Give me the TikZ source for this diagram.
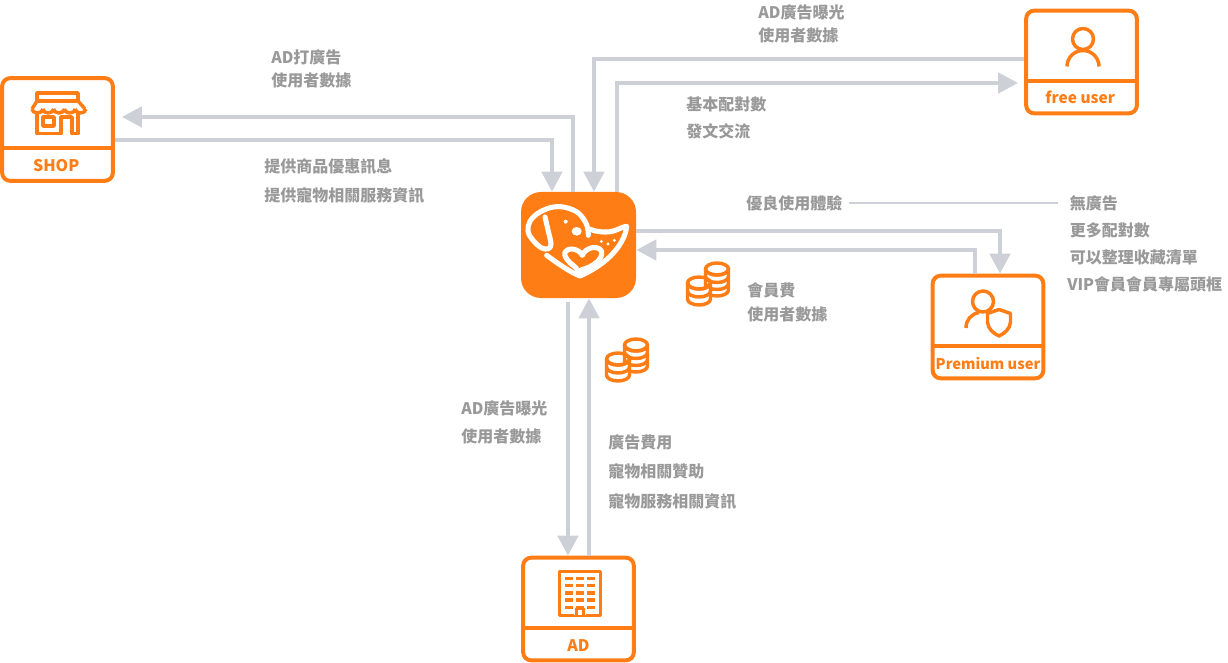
\documentclass[tikz,border=0pt]{standalone}
\usepackage{fontspec}
\setmainfont{Noto Sans CJK TC}
\definecolor{BrandOrange}{RGB}{255,125,20}
\definecolor{FlowGrey}{RGB}{205,208,214}
\definecolor{TextGrey}{RGB}{153,153,153}
\usetikzlibrary{arrows.meta, positioning}
\tikzset{
  card/.style={draw=BrandOrange, fill=white, line width=3pt, rounded corners=6pt,
               minimum width=83pt, minimum height=77pt, inner sep=0pt},
  cardname/.style={text=BrandOrange, font=\bfseries\fontsize{12}{14}\selectfont, inner sep=0pt},
  cardline/.style={draw=BrandOrange, line width=3pt},
  flow/.style={draw=FlowGrey, line width=3.3pt, -{Triangle[length=15pt,width=15pt]}},
  note/.style={text=TextGrey, font=\bfseries\fontsize{12}{18}\selectfont, align=left,
               anchor=west, inner sep=0pt},
  glyph/.style={draw=BrandOrange, line width=2.6pt, line join=round},
  logoline/.style={draw=white, line width=3.8pt, line cap=round, line join=round},
  coins/.pic={
    \draw[glyph, fill=white] (19.5,7) -- (19.5,28) arc[start angle=180,end angle=0,x radius=11.5,y radius=6]
      -- (42.5,7) arc[start angle=0,end angle=180,x radius=11.5,y radius=6] -- cycle;
    \draw[glyph] (31,7) ellipse[x radius=11.5,y radius=6];
    \draw[glyph] (19.5,14.5) arc[start angle=180,end angle=0,x radius=11.5,y radius=6];
    \draw[glyph] (19.5,21.5) arc[start angle=180,end angle=0,x radius=11.5,y radius=6];
    \draw[glyph, fill=white] (1.5,21) -- (1.5,37) arc[start angle=180,end angle=0,x radius=11.5,y radius=6]
      -- (24.5,21) arc[start angle=0,end angle=180,x radius=11.5,y radius=6] -- cycle;
    \draw[glyph] (13,21) ellipse[x radius=11.5,y radius=6];
    \draw[glyph] (1.5,29) arc[start angle=180,end angle=0,x radius=11.5,y radius=6];
  }
}

\begin{document}
\begin{tikzpicture}[x=0.75pt, y=-0.75pt]
  \useasboundingbox (0,0) rectangle (1228,663);

  % centre
  \node[fill=BrandOrange, rounded corners=15pt, minimum width=86.25pt,
        minimum height=79.5pt, inner sep=0pt] (logo) at (578.5,245) {};
  \begin{scope}[shift={(525,198)}, x=0.25pt, y=-0.25pt]
    \draw[logoline]
      plot[smooth, tension=0.6] coordinates {(60,57) (70,100) (78,138) (70,152) (50,150) (25,128) (9,100)
        (15,70) (40,45) (80,28) (120,28) (160,45) (185,80) (190,112)};
    \draw[logoline]
      (188,92) .. controls (200,92) and (205,100) .. (218,100) .. controls (235,103) and (250,103) .. (265,99)
      .. controls (280,95) and (295,85) .. (305,85) .. controls (303,115) and (275,185) .. (165,234)
      .. controls (140,225) and (100,198) .. (65,172);
    \draw[logoline]
      (165,232) .. controls (160,220) and (155,210) .. (148,205) .. controls (130,192) and (115,175) .. (120,162)
      .. controls (128,148) and (160,150) .. (172,172) .. controls (180,150) and (218,138) .. (230,160)
      .. controls (235,185) and (200,208) .. (170,215);
    \fill[white] (155,100) ellipse[x radius=15,y radius=13];
    \fill[white] (122,71) circle[radius=6];
    \fill[white] (229,130) circle[radius=5];
    \fill[white] (268,127) circle[radius=5];
    \fill[white] (249,138) circle[radius=5];
  \end{scope}

  % shop
  \node[card] (shop) at (57.5,129.5) {};
  \draw[cardline] ([yshift=-14pt]shop.west) -- ([yshift=-14pt]shop.east);
  \node[cardname] (shopname) at ([yshift=-27.4pt,xshift=-1pt]shop.center) {SHOP};
  \draw[glyph] (37,93) -- (78,93) -- (78,101) -- (37,101) -- cycle;
  \draw[glyph] (37,101) -- (32,109) (85,109) -- (78,101)
    \foreach \nx in {32,42.8,53.6,64.4,75.2} { (\nx,109) arc[start angle=180,end angle=360,x radius=5.4,y radius=-4] };
  \draw[glyph] (37,113) -- (37,133.5) -- (61,133.5) -- (61,117) -- (72,117) -- (72,133.5) -- (78,133.5) -- (78,113);
  \draw[glyph] (43,117) rectangle (54,126);

  % free user
  \node[card] (free) at (1081.5,62) {};
  \draw[cardline] ([yshift=-14pt]free.west) -- ([yshift=-14pt]free.east);
  \node[cardname, font=\bfseries\fontsize{11.6}{14}\selectfont] (freename)
    at ([yshift=-26.5pt,xshift=-1pt]free.center) {free user};
  \draw[glyph] (1083,39) circle[radius=10.5];
  \draw[glyph] (1067,66.5) arc[start angle=180,end angle=360,x radius=16,y radius=16];

  % premium user
  \node[card] (premium) at (988,327) {};
  \draw[cardline] ([yshift=-14pt]premium.west) -- ([yshift=-14pt]premium.east);
  \node[cardname, font=\bfseries\fontsize{11}{14}\selectfont] (premiumname)
    at ([yshift=-27.5pt]premium.center) {Premium user};
  \draw[glyph] (983,301.5) circle[radius=10.5];
  \draw[glyph] (966,328) .. controls (966,320) and (971,314) .. (979,312.5);
  \draw[glyph, fill=white] (999,309.5) -- (1010.5,313.5) -- (1010.5,322)
    .. controls (1010,329) and (1005,333) .. (999,336)
    .. controls (993,333) and (988,329) .. (987.5,322) -- (987.5,313.5) -- cycle;

  % advertiser
  \node[card] (ad) at (578.5,609) {};
  \draw[cardline] ([yshift=-14pt]ad.west) -- ([yshift=-14pt]ad.east);
  \node[cardname] (adname) at ([yshift=-27.4pt]ad.center) {AD};
  \draw[glyph] (559.5,571.5) rectangle (600.5,615.5);
  \foreach \ny in {578.5,585.5,592.8,600,607.5} {
    \foreach \nx in {565,576,587} {
      \fill[BrandOrange] (\nx,\ny-1.8) rectangle (\nx+8,\ny+1.8);
    }
  }
  \fill[white] (574,610) rectangle (586,615);
  \draw[glyph] (576.5,615.5) -- (576.5,608.5) -- (583.5,608.5) -- (583.5,615.5);

  % coins
  \pic at (686,262) {coins};
  \pic at (605,338) {coins};

  % flows
  \draw[flow] ([xshift=-4.1pt]logo.north) |- ([xshift=5.25pt,yshift=9.4pt]shop.east);
  \draw[flow] ([yshift=-7.9pt]shop.east) -| ([xshift=-19.9pt]logo.north);
  \draw[flow] ([yshift=2.25pt]free.west) -| ([xshift=11.6pt]logo.north);
  \draw[flow] ([xshift=28.9pt]logo.north) |- ([xshift=-4.5pt,yshift=-15.75pt]free.west);
  \draw[flow] ([yshift=10.5pt]logo.east) -| ([xshift=9pt]premium.north);
  \draw[flow] ([xshift=-9.75pt]premium.north) |- ([yshift=-3.75pt]logo.east);
  \draw[flow] ([xshift=-7.9pt,yshift=-3pt]logo.south) -- ([xshift=-7.9pt]ad.north);
  \draw[flow] ([xshift=7.9pt]ad.north) -- ([xshift=7.9pt]logo.south);

  % notes
  \node[note] (topview) at (758,23.5) {AD廣告曝光\\[-0.75pt]使用者數據};
  \node[note] (shopview) at (271,68.5) {AD打廣告\\[-0.75pt]使用者數據};
  \node[note] (basic) at (686,117.5) {基本配對數\\[2.25pt]發文交流};
  \node[note] (shopinfo) at (264,181.3) {提供商品優惠訊息\\[4pt]提供寵物相關服務資訊};
  \node[note] (better) at (746,203) {優良使用體驗};
  \node[note] (perks) at (1067,243.5) {\,無廣告\\[2.25pt]\,更多配對數\\[2.25pt]\,可以整理收藏清單\\[2.25pt]VIP會員會員專屬頭框};
  \node[note] (fee) at (747,302.8) {會員費\\使用者數據};
  \node[note] (adview) at (461,422) {AD廣告曝光\\[3pt]使用者數據};
  \node[note] (adpay) at (608,472) {廣告費用\\[4.2pt]寵物相關贊助\\[4.2pt]寵物服務相關資訊};

  \draw[draw=FlowGrey, line width=1.9pt, shorten <=4.5pt, shorten >=6.5pt]
    (better.east) -- (better.east -| perks.west);
\end{tikzpicture}
\end{document}
